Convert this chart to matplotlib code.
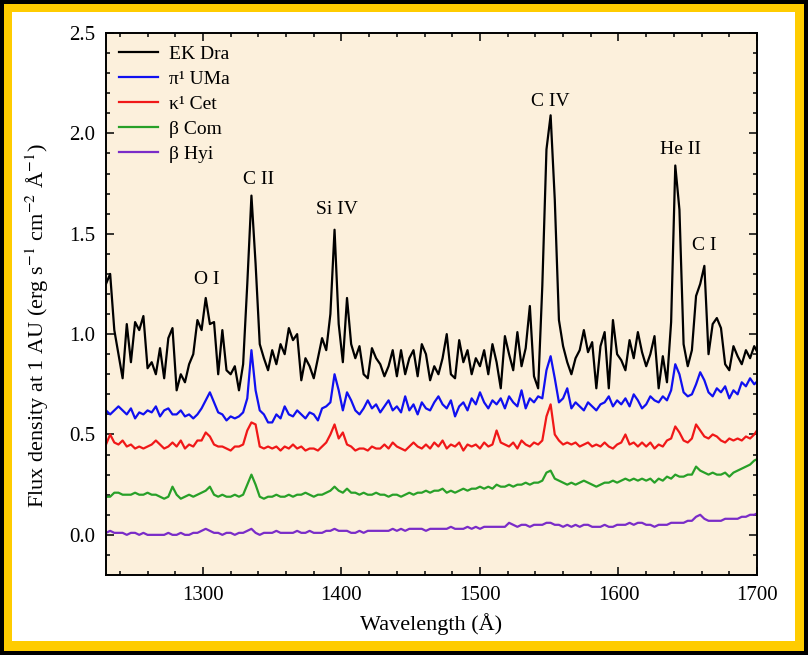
import numpy as np
import matplotlib
matplotlib.use('Agg')
import matplotlib.pyplot as plt
from matplotlib.patches import Rectangle
from matplotlib.ticker import MultipleLocator, FormatStrFormatter

plt.rcParams['font.family'] = ['Liberation Serif', 'DejaVu Serif']
plt.rcParams['mathtext.fontset'] = 'stix'

# wavelength grid of the spectra (3 A steps)
wave = np.arange(1230, 1702, 3)

ek_dra = [
    1.25, 1.30, 1.02, 0.90, 0.78, 1.05, 0.86, 1.06, 1.02, 1.09,
    0.83, 0.86, 0.80, 0.93, 0.78, 0.98, 1.03, 0.72, 0.80, 0.76,
    0.85, 0.90, 1.07, 1.02, 1.18, 1.05, 1.06, 0.80, 1.02, 0.82,
    0.80, 0.84, 0.72, 0.85, 1.25, 1.69, 1.35, 0.95, 0.88, 0.82,
    0.92, 0.85, 0.95, 0.90, 1.03, 0.97, 1.00, 0.77, 0.88, 0.84,
    0.78, 0.88, 0.98, 0.92, 1.10, 1.52, 1.05, 0.86, 1.18, 0.95,
    0.88, 0.94, 0.80, 0.78, 0.93, 0.88, 0.85, 0.79, 0.84, 0.92,
    0.79, 0.92, 0.80, 0.88, 0.92, 0.79, 0.95, 0.90, 0.77, 0.84,
    0.80, 0.88, 1.00, 0.80, 0.78, 0.97, 0.86, 0.92, 0.80, 0.88,
    0.84, 0.92, 0.80, 0.95, 0.86, 0.73, 0.99, 0.90, 0.82, 1.01,
    0.84, 0.93, 1.14, 0.79, 0.73, 1.24, 1.92, 2.09, 1.67, 1.07,
    0.94, 0.86, 0.80, 0.88, 0.92, 1.02, 0.91, 0.96, 0.73, 0.94,
    1.01, 0.73, 1.07, 0.90, 0.87, 0.82, 0.97, 0.88, 1.01, 0.91,
    0.84, 0.90, 0.99, 0.73, 0.89, 0.76, 1.06, 1.84, 1.62, 0.95,
    0.84, 0.92, 1.19, 1.25, 1.34, 0.90, 1.05, 1.08, 1.03, 0.85,
    0.82, 0.94, 0.89, 0.85, 0.92, 0.88, 0.94, 0.90,
]

pi1_uma = [
    0.62, 0.60, 0.62, 0.64, 0.62, 0.60, 0.63, 0.58, 0.61, 0.60,
    0.62, 0.61, 0.64, 0.59, 0.62, 0.63, 0.60, 0.60, 0.62, 0.59,
    0.60, 0.58, 0.60, 0.63, 0.67, 0.71, 0.66, 0.61, 0.60, 0.57,
    0.59, 0.58, 0.59, 0.61, 0.68, 0.92, 0.72, 0.62, 0.60, 0.56,
    0.56, 0.60, 0.58, 0.64, 0.60, 0.59, 0.62, 0.60, 0.58, 0.61,
    0.60, 0.57, 0.63, 0.64, 0.66, 0.80, 0.72, 0.62, 0.71, 0.67,
    0.62, 0.60, 0.63, 0.67, 0.63, 0.65, 0.61, 0.64, 0.67, 0.62,
    0.64, 0.61, 0.69, 0.62, 0.65, 0.60, 0.66, 0.63, 0.62, 0.66,
    0.69, 0.65, 0.63, 0.67, 0.59, 0.64, 0.66, 0.62, 0.68, 0.65,
    0.71, 0.66, 0.63, 0.67, 0.65, 0.68, 0.63, 0.69, 0.66, 0.64,
    0.72, 0.63, 0.68, 0.66, 0.69, 0.68, 0.82, 0.89, 0.78, 0.66,
    0.68, 0.73, 0.63, 0.66, 0.64, 0.62, 0.66, 0.64, 0.62, 0.65,
    0.66, 0.69, 0.64, 0.67, 0.65, 0.68, 0.64, 0.70, 0.67, 0.63,
    0.65, 0.69, 0.67, 0.66, 0.69, 0.67, 0.72, 0.85, 0.80, 0.71,
    0.69, 0.70, 0.75, 0.81, 0.77, 0.71, 0.69, 0.73, 0.71, 0.74,
    0.68, 0.72, 0.70, 0.76, 0.74, 0.78, 0.75, 0.77,
]

kap1_cet = [
    0.45, 0.50, 0.46, 0.45, 0.47, 0.44, 0.45, 0.43, 0.44, 0.43,
    0.44, 0.45, 0.47, 0.45, 0.43, 0.44, 0.46, 0.44, 0.47, 0.43,
    0.45, 0.44, 0.47, 0.47, 0.51, 0.49, 0.45, 0.44, 0.44, 0.43,
    0.42, 0.44, 0.44, 0.45, 0.52, 0.56, 0.55, 0.44, 0.43, 0.44,
    0.43, 0.44, 0.42, 0.44, 0.43, 0.45, 0.43, 0.44, 0.42, 0.43,
    0.43, 0.42, 0.44, 0.46, 0.50, 0.55, 0.48, 0.51, 0.45, 0.44,
    0.42, 0.43, 0.43, 0.42, 0.44, 0.43, 0.43, 0.45, 0.43, 0.46,
    0.44, 0.43, 0.42, 0.44, 0.46, 0.44, 0.43, 0.45, 0.43, 0.46,
    0.44, 0.47, 0.43, 0.45, 0.44, 0.46, 0.42, 0.45, 0.44, 0.45,
    0.43, 0.46, 0.44, 0.45, 0.52, 0.46, 0.45, 0.44, 0.46, 0.43,
    0.47, 0.45, 0.44, 0.46, 0.45, 0.47, 0.59, 0.65, 0.50, 0.47,
    0.45, 0.46, 0.45, 0.46, 0.44, 0.45, 0.46, 0.44, 0.45, 0.44,
    0.46, 0.44, 0.43, 0.45, 0.46, 0.50, 0.45, 0.46, 0.44, 0.46,
    0.44, 0.46, 0.43, 0.45, 0.44, 0.47, 0.48, 0.54, 0.51, 0.47,
    0.46, 0.48, 0.55, 0.52, 0.49, 0.48, 0.50, 0.49, 0.47, 0.46,
    0.48, 0.47, 0.48, 0.47, 0.49, 0.48, 0.50, 0.53,
]

beta_com = [
    0.19, 0.19, 0.21, 0.21, 0.20, 0.20, 0.20, 0.21, 0.20, 0.20,
    0.21, 0.20, 0.20, 0.19, 0.18, 0.19, 0.24, 0.20, 0.18, 0.19,
    0.20, 0.19, 0.20, 0.21, 0.22, 0.24, 0.20, 0.19, 0.20, 0.19,
    0.19, 0.20, 0.19, 0.20, 0.25, 0.30, 0.25, 0.19, 0.18, 0.19,
    0.19, 0.20, 0.19, 0.19, 0.20, 0.19, 0.20, 0.20, 0.21, 0.20,
    0.19, 0.20, 0.20, 0.21, 0.22, 0.24, 0.22, 0.21, 0.23, 0.21,
    0.21, 0.20, 0.21, 0.20, 0.20, 0.21, 0.20, 0.20, 0.19, 0.20,
    0.20, 0.19, 0.20, 0.21, 0.20, 0.21, 0.21, 0.22, 0.21, 0.22,
    0.22, 0.23, 0.21, 0.22, 0.21, 0.22, 0.23, 0.22, 0.23, 0.23,
    0.24, 0.23, 0.24, 0.23, 0.25, 0.24, 0.24, 0.25, 0.24, 0.25,
    0.25, 0.26, 0.25, 0.26, 0.26, 0.27, 0.31, 0.32, 0.28, 0.27,
    0.26, 0.25, 0.26, 0.25, 0.26, 0.27, 0.26, 0.25, 0.24, 0.25,
    0.26, 0.26, 0.27, 0.26, 0.27, 0.28, 0.27, 0.28, 0.27, 0.28,
    0.27, 0.28, 0.26, 0.28, 0.27, 0.29, 0.28, 0.30, 0.29, 0.29,
    0.30, 0.30, 0.34, 0.32, 0.31, 0.30, 0.31, 0.30, 0.30, 0.31,
    0.29, 0.31, 0.32, 0.33, 0.34, 0.35, 0.37, 0.38,
]

beta_hyi = [
    0.01, 0.02, 0.01, 0.01, 0.01, 0.00, 0.01, 0.01, 0.00, 0.01,
    0.00, 0.00, 0.00, 0.00, 0.00, 0.01, 0.00, 0.00, 0.01, 0.00,
    0.00, 0.01, 0.01, 0.02, 0.03, 0.02, 0.01, 0.01, 0.00, 0.01,
    0.01, 0.00, 0.01, 0.01, 0.02, 0.03, 0.01, 0.00, 0.01, 0.01,
    0.01, 0.02, 0.01, 0.01, 0.01, 0.01, 0.02, 0.01, 0.01, 0.02,
    0.01, 0.01, 0.01, 0.02, 0.02, 0.03, 0.02, 0.02, 0.02, 0.01,
    0.01, 0.02, 0.01, 0.02, 0.02, 0.02, 0.02, 0.02, 0.02, 0.03,
    0.02, 0.03, 0.02, 0.03, 0.03, 0.03, 0.03, 0.02, 0.03, 0.03,
    0.03, 0.03, 0.03, 0.04, 0.03, 0.03, 0.03, 0.04, 0.03, 0.04,
    0.03, 0.04, 0.04, 0.04, 0.04, 0.04, 0.04, 0.06, 0.05, 0.04,
    0.05, 0.05, 0.04, 0.05, 0.05, 0.05, 0.06, 0.06, 0.05, 0.05,
    0.04, 0.05, 0.04, 0.05, 0.04, 0.05, 0.05, 0.04, 0.04, 0.04,
    0.05, 0.04, 0.04, 0.05, 0.05, 0.05, 0.06, 0.05, 0.06, 0.06,
    0.05, 0.05, 0.04, 0.05, 0.05, 0.05, 0.06, 0.06, 0.06, 0.06,
    0.07, 0.07, 0.09, 0.10, 0.08, 0.07, 0.07, 0.07, 0.07, 0.08,
    0.08, 0.08, 0.08, 0.09, 0.09, 0.10, 0.10, 0.11,
]

stars = ['EK Dra', 'π¹ UMa', 'κ¹ Cet', 'β Com', 'β Hyi']
colors = ['black', '#1010f0', '#f01818', '#28a028', '#7a2cc8']

# emission line labels: name, wavelength, height
line_names = ['O I', 'C II', 'Si IV', 'C IV', 'He II', 'C I']
line_wave = [1303, 1340, 1397, 1551, 1645, 1662]
line_y = [1.27, 1.77, 1.62, 2.16, 1.92, 1.44]

fig = plt.figure(figsize=(8.08, 6.55), dpi=100, facecolor='black')
fig.patches.append(Rectangle((4/808, 4/655), 800/808, 647/655,
                             transform=fig.transFigure, facecolor='#ffcc00',
                             edgecolor='none', zorder=-2))
fig.patches.append(Rectangle((12/808, 14/655), 783/808, 629/655,
                             transform=fig.transFigure, facecolor='white',
                             edgecolor='none', zorder=-1))

ax = fig.add_axes([106/808, 1 - 575/655, 651/808, 542/655])
ax.set_facecolor('#fcf0dc')

for flux, name, c in zip([ek_dra, pi1_uma, kap1_cet, beta_com, beta_hyi], stars, colors):
    ax.plot(wave, flux, color=c, lw=1.6, label=name)

for name, x, y in zip(line_names, line_wave, line_y):
    ax.text(x, y, name, ha='center', va='center', fontsize=14)

ax.set_xlim(1230, 1700)
ax.set_ylim(-0.2, 2.5)
ax.set_xticks([1300, 1400, 1500, 1600, 1700])
ax.set_yticks([0.0, 0.5, 1.0, 1.5, 2.0, 2.5])
ax.yaxis.set_major_formatter(FormatStrFormatter('%.1f'))
ax.xaxis.set_minor_locator(MultipleLocator(20))
ax.yaxis.set_minor_locator(MultipleLocator(0.1))
ax.tick_params(which='both', direction='in', top=True, right=True, labelsize=15, width=1.1)
ax.tick_params(which='major', length=6, pad=8)
ax.tick_params(which='minor', length=3)
for s in ax.spines.values():
    s.set_linewidth(1.4)

ax.set_xlabel('Wavelength (Å)', fontsize=16, labelpad=6)
ax.set_ylabel(r'Flux density at 1 AU (erg s$^{-1}$ cm$^{-2}$ Å$^{-1}$)', fontsize=16)
ax.yaxis.set_label_coords(-0.085, 0.46)

ax.legend(loc='upper left', frameon=False, fontsize=14, handlelength=2.0,
          labelspacing=0.38, borderaxespad=0.25, handletextpad=0.6)

fig.savefig('out.png', dpi=100, facecolor=fig.get_facecolor())
